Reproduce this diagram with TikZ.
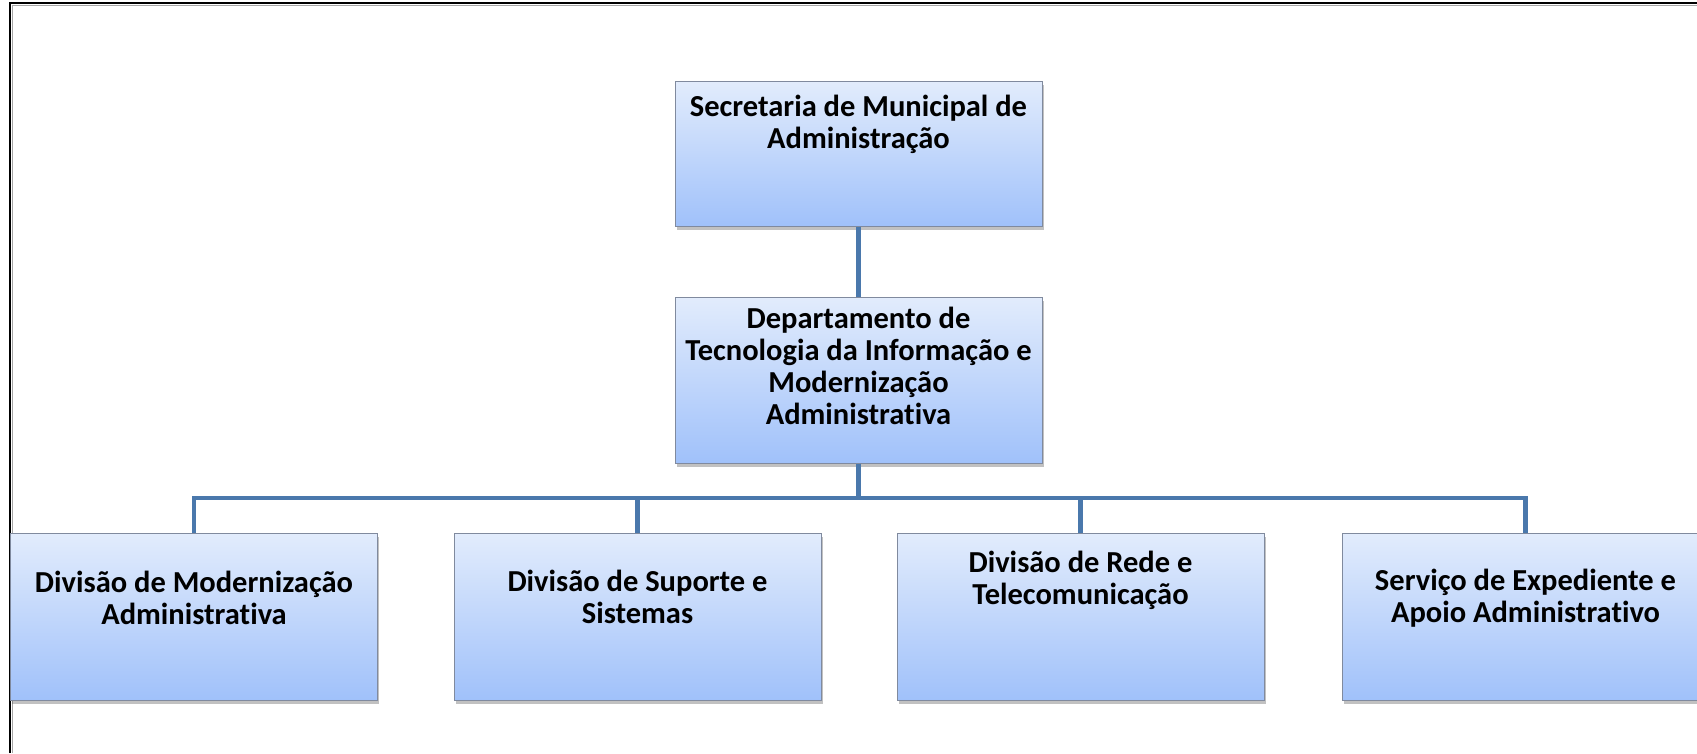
\documentclass[tikz,border=0pt]{standalone}
\usepackage{fontspec}
\setmainfont{Carlito}[Ligatures=NoCommon]
\usetikzlibrary{shadows}
\definecolor{conncol}{RGB}{74,120,172}
\definecolor{boxtop}{RGB}{226,236,252}
\definecolor{boxbot}{RGB}{160,193,250}
\definecolor{boxline}{RGB}{128,138,158}
\tikzset{
  orgbox/.style={rectangle, draw=boxline, line width=1pt, top color=boxtop, bottom color=boxbot,
    minimum width=367pt, inner sep=0pt,
    drop shadow={shadow xshift=1.5pt, shadow yshift=-4pt, opacity=0.35, fill=black!70}},
  orgtext/.style={align=center, inner sep=0pt, font=\fontsize{30.5}{32}\selectfont\bfseries},
  conn/.style={draw=conncol, line width=4.5pt},
  frameline/.style={draw=black, line width=2pt}
}
\begin{document}
\begin{tikzpicture}[x=1pt,y=-1pt]
\useasboundingbox (0,0) rectangle (1697,753);
\clip (0,0) rectangle (1697,753);
% frame
\draw[draw=black!35, line width=1.5pt] (12.5,753) -- (12.5,5.5) -- (1697,5.5);
\draw[frameline] (10,753) -- (10,3) -- (1697,3);
\coordinate (busy) at (0,498);
% boxes
\node[orgbox, minimum height=145pt] (top) at (858.5,153.5) {};
\node[orgbox, minimum height=166pt] (mid) at (858.5,380) {};
\node[orgbox, minimum height=167pt] (b1) at (194,616.5) {};
\node[orgbox, minimum height=167pt] (b2) at (637.5,616.5) {};
\node[orgbox, minimum height=167pt] (b3) at (1080.5,616.5) {};
\node[orgbox, minimum height=167pt] (b4) at (1525.5,616.5) {};
% connectors
\draw[conn] (top.south) -- (mid.north);
\draw[conn] (mid.south) -- (mid.south |- busy);
\draw[conn] (b1.north) |- (b4.north |- busy) -- (b4.north);
\draw[conn] (b2.north) -- (b2.north |- busy);
\draw[conn] (b3.north) -- (b3.north |- busy);
% texts
\node[orgtext] (ttop) at (858.5,124) {Secretaria de Municipal de\\Administração};
\node[orgtext] (tmid) at (858.5,366) {Departamento de\\Tecnologia da Informação e\\Modernização\\Administrativa};
\node[orgtext] (tb1) at (194,598) {Divisão de Modernização\\Administrativa};
\node[orgtext] (tb2) at (637.5,597) {Divisão de Suporte e\\Sistemas};
\node[orgtext] (tb3) at (1080.5,580) {Divisão de Rede e\\Telecomunicação};
\node[orgtext] (tb4) at (1525.5,598) {Serviço de Expediente e\\Apoio Administrativo};
\end{tikzpicture}
\end{document}
